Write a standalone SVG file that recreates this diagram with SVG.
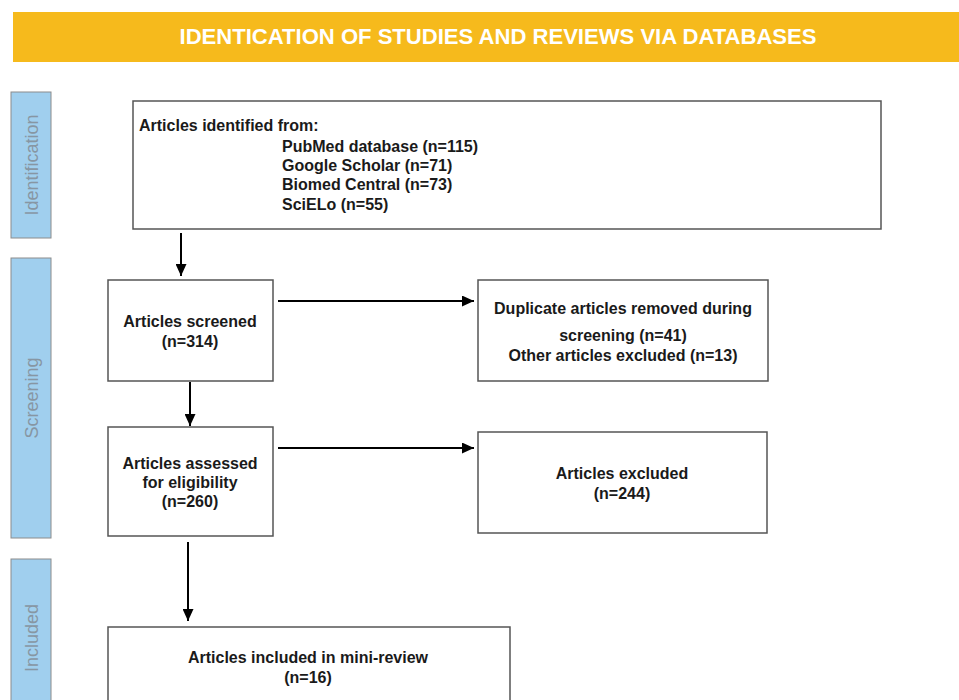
<svg xmlns="http://www.w3.org/2000/svg" width="959" height="700" viewBox="0 0 959 700">
<defs>
<marker id="ah" viewBox="0 0 12 11" refX="12" refY="5.5" markerWidth="12" markerHeight="11" markerUnits="userSpaceOnUse" orient="auto">
<path d="M0,0 L12,5.5 L0,11 Z" fill="#000"/>
</marker>
</defs>
<style>
.box{fill:#fff;stroke:#555;stroke-width:1.5}
.side{fill:#A0CFEE;stroke:#8c8c8c;stroke-width:1}
.sidet{font-family:"Liberation Sans",Arial,sans-serif;font-size:18px;fill:#8796a3;text-anchor:middle}
.t{font-family:"Liberation Sans",Arial,sans-serif;font-size:16px;font-weight:bold;fill:#1a1a1a}
.c{text-anchor:middle}
.conn{stroke:#000;stroke-width:2;fill:none;marker-end:url(#ah)}
</style>
<rect width="959" height="700" fill="#fff"/>
<g id="banner">
<rect x="13" y="12" width="946" height="50" fill="#F6BA1C"/>
<text x="498" y="44" font-family="Liberation Sans,Arial,sans-serif" font-size="22" font-weight="bold" fill="#fff" text-anchor="middle" textLength="637" lengthAdjust="spacingAndGlyphs">IDENTICATION OF STUDIES AND REVIEWS VIA DATABASES</text>
</g>
<g id="phase-identification">
<rect class="side" x="11" y="92" width="40" height="146"/>
<text class="sidet" transform="translate(38,165) rotate(-90)">Identification</text>
</g>
<g id="phase-screening">
<rect class="side" x="11" y="258" width="40" height="280"/>
<text class="sidet" transform="translate(38,398) rotate(-90)">Screening</text>
</g>
<g id="phase-included">
<rect class="side" x="11" y="559" width="40" height="150"/>
<text class="sidet" transform="translate(38,638) rotate(-90)">Included</text>
</g>
<g id="identified">
<rect class="box" x="133" y="101" width="748" height="128"/>
<text class="t" x="139" y="131">Articles identified from:</text>
<text class="t" x="282" y="152">PubMed database (n=115)</text>
<text class="t" x="282" y="171">Google Scholar (n=71)</text>
<text class="t" x="282" y="190">Biomed Central (n=73)</text>
<text class="t" x="282" y="210">SciELo (n=55)</text>
</g>
<g id="screened">
<rect class="box" x="108" y="280" width="165" height="101"/>
<text class="t c" x="190" y="327">Articles screened</text>
<text class="t c" x="190" y="347">(n=314)</text>
</g>
<g id="duplicates">
<rect class="box" x="478" y="280" width="290" height="101"/>
<text class="t c" x="623" y="314">Duplicate articles removed during</text>
<text class="t c" x="623" y="341">screening (n=41)</text>
<text class="t c" x="623" y="361">Other articles excluded (n=13)</text>
</g>
<g id="assessed">
<rect class="box" x="108" y="427" width="165" height="109"/>
<text class="t c" x="190" y="469">Articles assessed</text>
<text class="t c" x="190" y="488">for eligibility</text>
<text class="t c" x="190" y="507">(n=260)</text>
</g>
<g id="excluded">
<rect class="box" x="478" y="432" width="289" height="101"/>
<text class="t c" x="622" y="479">Articles excluded</text>
<text class="t c" x="622" y="499">(n=244)</text>
</g>
<g id="included">
<rect class="box" x="108" y="627" width="402" height="90"/>
<text class="t c" x="308" y="663">Articles included in mini-review</text>
<text class="t c" x="308" y="683">(n=16)</text>
</g>
<g id="connectors">
<line class="conn" x1="181" y1="233" x2="181" y2="276"/>
<line class="conn" x1="190" y1="382" x2="190" y2="426"/>
<line class="conn" x1="188" y1="542" x2="188" y2="621"/>
<line class="conn" x1="278" y1="301" x2="474" y2="301"/>
<line class="conn" x1="278" y1="448" x2="474" y2="448"/>
</g>
</svg>
